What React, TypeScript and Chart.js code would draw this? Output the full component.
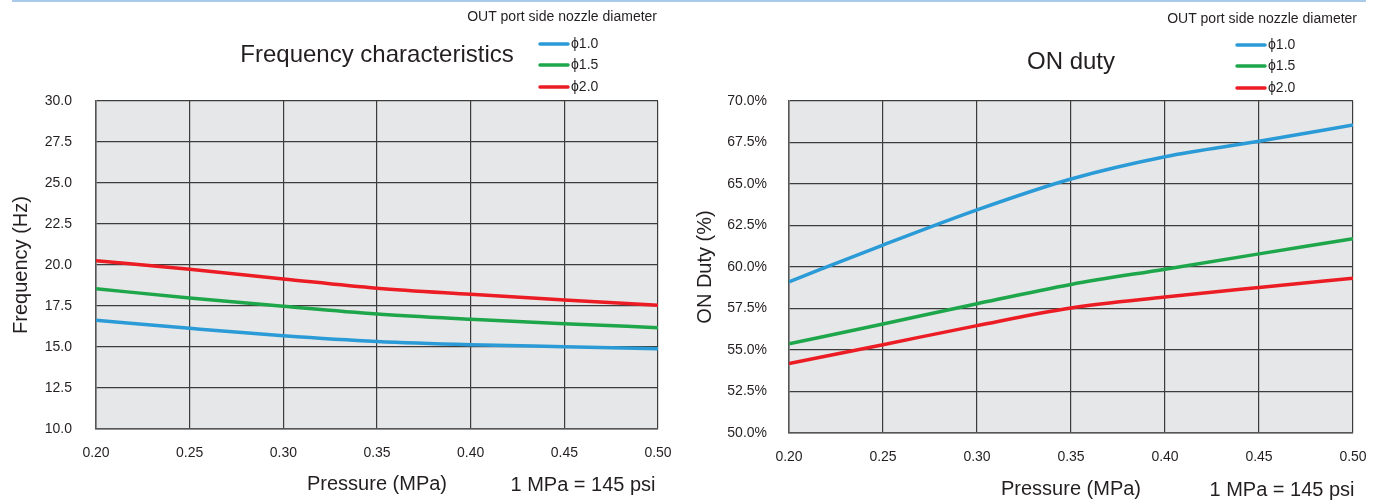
import { useEffect, useRef } from "react";
import { Chart, registerables } from "chart.js";

Chart.register(...registerables);

// ---------- data ----------
const pressure = [0.2, 0.25, 0.3, 0.35, 0.4, 0.45, 0.5];
const pressureTicks = [0.2, 0.25, 0.3, 0.35, 0.4, 0.45, 0.5];
const nozzleLabels = ["ϕ1.0", "ϕ1.5", "ϕ2.0"];

const freqPhi10 = [16.63, 16.14, 15.69, 15.34, 15.14, 15.02, 14.9];
const freqPhi15 = [18.55, 17.99, 17.48, 17.01, 16.69, 16.42, 16.18];
const freqPhi20 = [20.26, 19.74, 19.15, 18.58, 18.21, 17.87, 17.54];
const freqTicks = [10, 12.5, 15, 17.5, 20, 22.5, 25, 27.5, 30];

const dutyPhi10 = [59.11, 61.32, 63.44, 65.3, 66.64, 67.57, 68.55];
const dutyPhi15 = [55.37, 56.57, 57.79, 58.95, 59.87, 60.79, 61.71];
const dutyPhi20 = [54.18, 55.32, 56.47, 57.53, 58.19, 58.77, 59.33];
const dutyTicks = [50, 52.5, 55, 57.5, 60, 62.5, 65, 67.5, 70];

const seriesColors = ["#2b9bd7", "#1ea64b", "#ec1c24"];

const FONT = '"Liberation Sans", Arial, Helvetica, sans-serif';
const TEXT = "#231f20";

type Opts = {
  title: string;
  titleY: number;
  noteX: number;
  noteY: number;
  legendX: number;
  legendYs: number[];
  psiX: number;
  psiY: number;
  yTitle: string;
  yTitlePad: number;
  yTicks: number[];
  yFmt: (v: number) => string;
  yAxisWidth: number;
  xAxisHeight: number;
  padTop: number;
  padRight: number;
  xTickGap: number;
  yTickGap: number;
  xTitlePadBottom: number;
  series: number[][];
};

function makeDecor(o: Opts) {
  return {
    id: "decor",
    beforeDraw(chart: any) {
      const { ctx, chartArea: a } = chart;
      ctx.save();
      ctx.fillStyle = "#e6e7e8";
      ctx.fillRect(a.left, a.top, a.right - a.left, a.bottom - a.top);
      ctx.restore();
    },
    afterDraw(chart: any) {
      const { ctx, chartArea: a } = chart;
      ctx.save();
      ctx.fillStyle = TEXT;
      // title
      ctx.font = `24px ${FONT}`;
      ctx.textAlign = "center";
      ctx.textBaseline = "middle";
      ctx.fillText(o.title, (a.left + a.right) / 2, o.titleY);
      // note
      ctx.font = `14px ${FONT}`;
      ctx.textAlign = "right";
      ctx.fillText("OUT port side nozzle diameter", o.noteX, o.noteY);
      // legend
      chart.data.datasets.forEach((ds: any, i: number) => {
        const y = o.legendYs[i];
        ctx.strokeStyle = ds.borderColor;
        ctx.lineWidth = 3.5;
        ctx.lineCap = "round";
        ctx.beginPath();
        ctx.moveTo(o.legendX, y);
        ctx.lineTo(o.legendX + 28, y);
        ctx.stroke();
        ctx.fillStyle = TEXT;
        ctx.font = `14px ${FONT}`;
        ctx.textAlign = "left";
        ctx.fillText(ds.label, o.legendX + 31, y);
      });
      // psi note
      ctx.font = `20px ${FONT}`;
      ctx.textAlign = "center";
      ctx.fillText("1 MPa = 145 psi", o.psiX, o.psiY);
      ctx.restore();
    },
  };
}

function buildConfig(o: Opts): any {
  return {
    type: "line",
    data: {
      datasets: o.series.map((s, i) => ({
        label: nozzleLabels[i],
        data: pressure.map((p, j) => ({ x: p, y: s[j] })),
        borderColor: seriesColors[i],
        backgroundColor: seriesColors[i],
        borderWidth: 3.5,
        pointRadius: 0,
        cubicInterpolationMode: "monotone",
        fill: false,
      })),
    },
    options: {
      responsive: false,
      animation: false,
      devicePixelRatio: 1,
      layout: { padding: { left: 0, top: o.padTop, right: o.padRight, bottom: 0 } },
      plugins: {
        legend: { display: false },
        title: { display: false },
        tooltip: { enabled: false },
      },
      scales: {
        x: {
          type: "linear",
          min: 0.2,
          max: 0.5,
          afterBuildTicks: (s: any) => {
            s.ticks = pressureTicks.map((v) => ({ value: v }));
          },
          afterFit: (s: any) => {
            s.height = o.xAxisHeight;
          },
          ticks: {
            callback: (v: any) => Number(v).toFixed(2),
            padding: 3,
            color: TEXT,
            font: { size: 14, family: FONT },
            maxRotation: 0,
            autoSkip: false,
          },
          grid: {
            color: "#3c3c3c",
            lineWidth: 1.2,
            drawTicks: true,
            tickLength: o.xTickGap - 3,
            tickColor: "rgba(0,0,0,0)",
          },
          border: { color: "#555", width: 1.5 },
          title: {
            display: true,
            text: "Pressure (MPa)",
            color: TEXT,
            font: { size: 20, family: FONT },
            padding: { top: 0, bottom: o.xTitlePadBottom },
          },
        },
        y: {
          type: "linear",
          min: o.yTicks[0],
          max: o.yTicks[o.yTicks.length - 1],
          afterBuildTicks: (s: any) => {
            s.ticks = o.yTicks.map((v) => ({ value: v }));
          },
          afterFit: (s: any) => {
            s.width = o.yAxisWidth;
          },
          ticks: {
            callback: (v: any) => o.yFmt(Number(v)),
            padding: 3,
            color: TEXT,
            font: { size: 14, family: FONT },
            autoSkip: false,
          },
          grid: {
            color: "#3c3c3c",
            lineWidth: 1.2,
            drawTicks: true,
            tickLength: o.yTickGap - 3,
            tickColor: "rgba(0,0,0,0)",
          },
          border: { color: "#555", width: 1.5 },
          title: {
            display: true,
            text: o.yTitle,
            color: TEXT,
            font: { size: 20, family: FONT },
            padding: { top: o.yTitlePad, bottom: 0 },
          },
        },
      },
    },
    plugins: [makeDecor(o)],
  };
}

const leftOpts: Opts = {
  title: "Frequency characteristics",
  titleY: 55,
  noteX: 657,
  noteY: 17,
  legendX: 540,
  legendYs: [44, 65, 87],
  psiX: 583,
  psiY: 485,
  yTitle: "Frequency (Hz)",
  yTitlePad: 9,
  yTicks: freqTicks,
  yFmt: (v) => v.toFixed(1),
  yAxisWidth: 96,
  xAxisHeight: 72,
  padTop: 101,
  padRight: 32,
  xTickGap: 16,
  yTickGap: 24,
  xTitlePadBottom: 5,
  series: [freqPhi10, freqPhi15, freqPhi20],
};

const rightOpts: Opts = {
  title: "ON duty",
  titleY: 62,
  noteX: 667,
  noteY: 19,
  legendX: 547,
  legendYs: [45, 66, 88],
  psiX: 592,
  psiY: 490,
  yTitle: "ON Duty (%)",
  yTitlePad: 3,
  yTicks: dutyTicks,
  yFmt: (v) => v.toFixed(1) + "%",
  yAxisWidth: 99,
  xAxisHeight: 68,
  padTop: 101,
  padRight: 26,
  xTickGap: 16,
  yTickGap: 22,
  xTitlePadBottom: 0,
  series: [dutyPhi10, dutyPhi15, dutyPhi20],
};

function LineChart({ left, width, opts }: { left: number; width: number; opts: Opts }) {
  const ref = useRef<HTMLCanvasElement>(null);
  useEffect(() => {
    const chart = new Chart(ref.current as HTMLCanvasElement, buildConfig(opts));
    return () => chart.destroy();
  }, []);
  return (
    <canvas
      ref={ref}
      width={width}
      height={501}
      style={{ position: "absolute", left, top: 0, width, height: 501 }}
    />
  );
}

export default function App() {
  return (
    <div style={{ position: "absolute", left: 0, top: 0, width: 1379, height: 501, background: "#fff" }}>
      <div style={{ position: "absolute", left: 12, top: 0, width: 1354, height: 2, background: "#a9cbe9" }} />
      <LineChart left={0} width={690} opts={leftOpts} />
      <LineChart left={690} width={689} opts={rightOpts} />
    </div>
  );
}
